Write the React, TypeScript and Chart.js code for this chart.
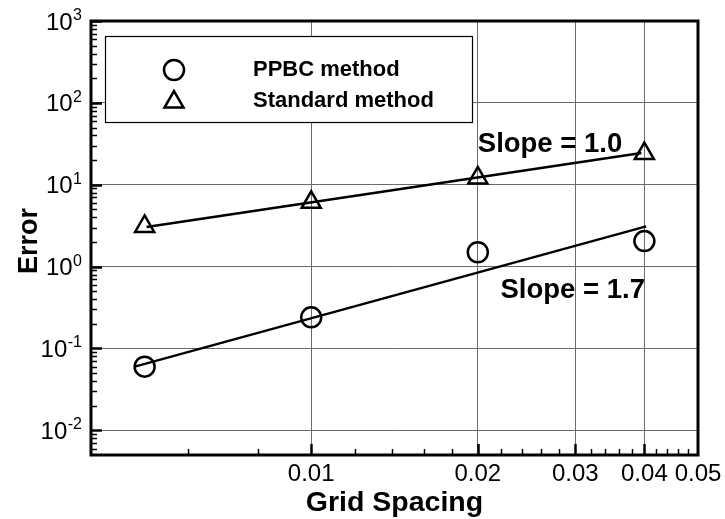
import React, { useEffect, useRef } from 'react';
import { Chart, registerables } from 'chart.js';

Chart.register(...registerables);

// Error against grid spacing for the two boundary treatments
const gridSpacing = [0.005, 0.01, 0.02, 0.04];
const ppbcError = [0.06, 0.24, 1.5, 2.05];
const standardError = [3.1, 6.1, 12.1, 24];

// End points of the fitted slope lines
const slope17X = [0.0048, 0.0403];
const slope17Y = [0.06, 3.1];
const slope10X = [0.00504, 0.0395];
const slope10Y = [3.05, 24.4];

// Labelled axis ticks
const xTickValues = [0.01, 0.02, 0.03, 0.04, 0.05];
const xTickLabels = ['0.01', '0.02', '0.03', '0.04', '0.05'];
const yExponents = [-2, -1, 0, 1, 2, 3];

const seriesLabels = ['PPBC method', 'Standard method'];
const slopeLabels = ['Slope = 1.0', 'Slope = 1.7'];

const X_MIN = 0.004;
const X_MAX = 0.05;
const Y_MIN = 0.005;
const Y_MAX = 1000;

const FONT = '"Liberation Sans", Arial, Helvetica, sans-serif';

function seg(ctx: CanvasRenderingContext2D, x1: number, y1: number, x2: number, y2: number) {
  ctx.beginPath();
  ctx.moveTo(x1, y1);
  ctx.lineTo(x2, y2);
  ctx.stroke();
}

function circleMark(ctx: CanvasRenderingContext2D, x: number, y: number, r: number) {
  ctx.beginPath();
  ctx.arc(x, y, r, 0, Math.PI * 2);
  ctx.stroke();
}

function triangleMark(ctx: CanvasRenderingContext2D, x: number, y: number, r: number) {
  ctx.beginPath();
  for (let i = 0; i < 3; i++) {
    const a = (i * 2 * Math.PI) / 3;
    const px = x + Math.sin(a) * r;
    const py = y - Math.cos(a) * r;
    if (i === 0) ctx.moveTo(px, py);
    else ctx.lineTo(px, py);
  }
  ctx.closePath();
  ctx.stroke();
}

// Frame, inward tick marks, tick labels, axis titles, slope notes and the legend box
const decorations = {
  id: 'decorations',
  afterDraw(chart: any) {
    const { ctx, chartArea: a, scales } = chart;
    const xs = scales.x;
    const ys = scales.y;
    ctx.save();
    ctx.strokeStyle = '#000';
    ctx.fillStyle = '#000';
    ctx.lineCap = 'butt';

    // y minor ticks
    ctx.lineWidth = 1.5;
    for (let e = -3; e <= 2; e++) {
      for (let m = 2; m <= 9; m++) {
        const v = m * Math.pow(10, e);
        if (v <= Y_MIN || v >= Y_MAX) continue;
        const py = Math.round(ys.getPixelForValue(v)) + 0.5;
        seg(ctx, a.left, py, a.left + 6, py);
      }
    }
    // y major ticks
    ctx.lineWidth = 2.5;
    yExponents.forEach((e) => {
      const py = Math.round(ys.getPixelForValue(Math.pow(10, e))) + 0.5;
      seg(ctx, a.left, py, a.left + 11, py);
    });

    // x minor ticks
    ctx.lineWidth = 1.5;
    for (let k = 3; k <= 24; k++) {
      const v = k * 0.002;
      if (k % 5 === 0) continue;
      if (v <= X_MIN || v >= X_MAX) continue;
      const px = Math.round(xs.getPixelForValue(v)) + 0.5;
      seg(ctx, px, a.bottom, px, a.bottom - 6);
    }
    // x major ticks
    ctx.lineWidth = 2.5;
    xTickValues.forEach((v) => {
      if (v >= X_MAX) return;
      const px = Math.round(xs.getPixelForValue(v)) + 0.5;
      seg(ctx, px, a.bottom, px, a.bottom - 11);
    });

    // frame
    ctx.lineWidth = 3;
    ctx.strokeRect(a.left, a.top, a.right - a.left, a.bottom - a.top);

    // x tick labels
    ctx.font = `24px ${FONT}`;
    ctx.textAlign = 'center';
    ctx.textBaseline = 'alphabetic';
    xTickValues.forEach((v, i) => {
      ctx.fillText(xTickLabels[i], xs.getPixelForValue(v), a.bottom + 26);
    });

    // y tick labels: 10 with a raised exponent
    yExponents.forEach((e) => {
      const py = ys.getPixelForValue(Math.pow(10, e));
      const right = a.left - 9;
      ctx.textAlign = 'right';
      ctx.font = `16px ${FONT}`;
      const exp = String(e);
      const w = ctx.measureText(exp).width;
      ctx.fillText(exp, right, py - 1);
      ctx.font = `24px ${FONT}`;
      ctx.fillText('10', right - w - 0.5, py + 8.6);
    });

    // axis titles
    ctx.font = `bold 28.5px ${FONT}`;
    ctx.textAlign = 'center';
    ctx.fillText('Grid Spacing', (a.left + a.right) / 2, 511);
    ctx.font = `bold 27px ${FONT}`;
    ctx.save();
    ctx.translate(36.5, (a.top + a.bottom) / 2 + 3);
    ctx.rotate(-Math.PI / 2);
    ctx.fillText('Error', 0, 0);
    ctx.restore();

    // slope notes
    ctx.font = `bold 27.5px ${FONT}`;
    ctx.textAlign = 'left';
    ctx.fillText(slopeLabels[0], xs.getPixelForValue(0.02), ys.getPixelForValue(25));
    ctx.textAlign = 'right';
    ctx.fillText(slopeLabels[1], xs.getPixelForValue(0.0401), ys.getPixelForValue(0.41));

    // legend box
    const bx = a.left + 14;
    const by = a.top + 15;
    const bw = 367;
    const bh = 86;
    ctx.fillStyle = '#fff';
    ctx.fillRect(bx, by, bw, bh);
    ctx.lineWidth = 1.2;
    ctx.strokeStyle = '#000';
    ctx.strokeRect(bx + 0.5, by + 0.5, bw, bh);
    ctx.fillStyle = '#000';
    ctx.lineWidth = 2.5;
    circleMark(ctx, bx + 69, by + 34, 10);
    triangleMark(ctx, bx + 69, by + 66, 11);
    ctx.font = `bold 22px ${FONT}`;
    ctx.textAlign = 'left';
    ctx.fillText(seriesLabels[0], bx + 148, by + 40);
    ctx.fillText(seriesLabels[1], bx + 148, by + 71);

    ctx.restore();
  },
};

export default function App() {
  const canvasRef = useRef<HTMLCanvasElement>(null);

  useEffect(() => {
    const canvas = canvasRef.current;
    if (!canvas) return;
    const pts = (xs: number[], ys: number[]) => xs.map((x, i) => ({ x, y: ys[i] }));
    const chart = new Chart(canvas, {
      type: 'scatter',
      data: {
        datasets: [
          {
            label: seriesLabels[0],
            data: pts(gridSpacing, ppbcError),
            showLine: false,
            pointStyle: 'circle',
            pointRadius: 10,
            pointBorderWidth: 2.5,
            borderColor: '#000',
            backgroundColor: 'rgba(0,0,0,0)',
          },
          {
            label: seriesLabels[1],
            data: pts(gridSpacing, standardError),
            showLine: false,
            pointStyle: 'triangle',
            pointRadius: 11,
            pointBorderWidth: 2.5,
            borderColor: '#000',
            backgroundColor: 'rgba(0,0,0,0)',
          },
          {
            label: slopeLabels[1],
            data: pts(slope17X, slope17Y),
            showLine: true,
            pointRadius: 0,
            borderWidth: 2.5,
            borderColor: '#000',
          },
          {
            label: slopeLabels[0],
            data: pts(slope10X, slope10Y),
            showLine: true,
            pointRadius: 0,
            borderWidth: 2.5,
            borderColor: '#000',
          },
        ],
      },
      options: {
        animation: false,
        responsive: false,
        devicePixelRatio: 1,
        layout: { padding: { top: 21, right: 27, left: 0, bottom: 0 } },
        plugins: { legend: { display: false }, tooltip: { enabled: false } },
        events: [],
        scales: {
          x: {
            type: 'logarithmic',
            min: X_MIN,
            max: X_MAX,
            border: { display: false },
            grid: { color: '#6a6a6a', lineWidth: 1, drawTicks: false },
            ticks: { display: false },
            afterBuildTicks: (scale: any) => {
              scale.ticks = xTickValues.map((value) => ({ value }));
            },
            afterFit: (scale: any) => {
              scale.height = 64;
            },
          },
          y: {
            type: 'logarithmic',
            min: Y_MIN,
            max: Y_MAX,
            border: { display: false },
            grid: { color: '#6a6a6a', lineWidth: 1, drawTicks: false },
            ticks: { display: false },
            afterBuildTicks: (scale: any) => {
              scale.ticks = yExponents.map((e) => ({ value: Math.pow(10, e) }));
            },
            afterFit: (scale: any) => {
              scale.width = 91;
            },
          },
        },
      },
      plugins: [decorations],
    } as any);
    return () => chart.destroy();
  }, []);

  return (
    <div style={{ position: 'fixed', left: 0, top: 0, width: 725, height: 519, background: '#fff' }}>
      <canvas ref={canvasRef} width={725} height={519} style={{ display: 'block', width: 725, height: 519 }} />
    </div>
  );
}
